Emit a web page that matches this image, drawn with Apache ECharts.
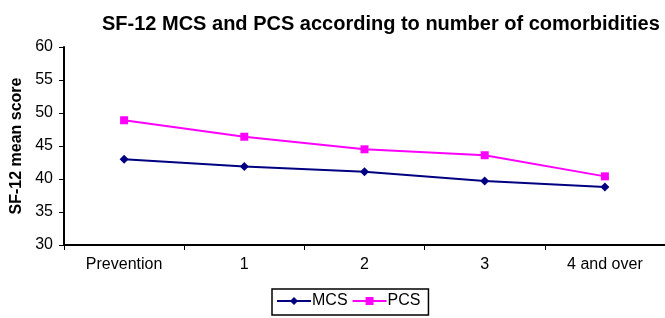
<!DOCTYPE html>
<html>
<head>
<meta charset="utf-8">
<script src="https://cdn.jsdelivr.net/npm/echarts@6/dist/echarts.min.js"></script>
<style>
  html, body { margin: 0; padding: 0; background: #fff; }
  #chart { width: 665px; height: 318px; }
</style>
</head>
<body>
<div id="chart"></div>
<script>
const categories = ["Prevention", "1", "2", "3", "4 and over"];
const mcs = [43.0, 41.9, 41.1, 39.7, 38.8];
const pcs = [48.9, 46.4, 44.5, 43.6, 40.4];

const chart = echarts.init(document.getElementById("chart"));
const font = "Liberation Sans, Arial, sans-serif";

chart.setOption({
  animation: false,
  title: {
    text: "SF-12 MCS and PCS according to number of comorbidities",
    left: 97,
    top: 9,
    textStyle: { fontFamily: font, fontSize: 20, fontWeight: "bold", color: "#000" },
  },
  grid: { left: 64, right: -4, top: 47, bottom: 73 },
  legend: {
    top: 289,
    left: 272,
    padding: [4, 8, 6, 4],
    borderColor: "#000",
    borderWidth: 1.5,
    itemWidth: 34,
    itemHeight: 10,
    itemGap: 4,
    textStyle: { fontFamily: font, fontSize: 16, color: "#000", padding: [0, 0, 0, -4] },
    data: ["MCS", "PCS"],
  },
  xAxis: {
    type: "category",
    data: categories,
    boundaryGap: true,
    axisLine: { lineStyle: { color: "#000", width: 2 } },
    axisTick: { show: true, length: 5, lineStyle: { color: "#000", width: 1 } },
    axisLabel: { fontFamily: font, fontSize: 16, color: "#000", margin: 12 },
  },
  yAxis: {
    type: "value",
    min: 30,
    max: 60,
    interval: 5,
    name: "SF-12 mean score",
    nameLocation: "middle",
    nameGap: 37,
    nameTextStyle: { fontFamily: font, fontSize: 16, fontWeight: "bold", color: "#000" },
    axisLine: { show: true, lineStyle: { color: "#000", width: 2 } },
    axisTick: { show: true, length: 5, lineStyle: { color: "#000", width: 1 } },
    axisLabel: { fontFamily: font, fontSize: 16, color: "#000", margin: 11 },
    splitLine: { show: false },
  },
  series: [
    {
      name: "MCS",
      type: "line",
      data: mcs,
      color: "#000080",
      symbol: "diamond",
      symbolSize: 9,
      lineStyle: { width: 2, color: "#000080" },
      itemStyle: { color: "#000080" },
    },
    {
      name: "PCS",
      type: "line",
      data: pcs,
      color: "#ff00ff",
      symbol: "rect",
      symbolSize: 8,
      lineStyle: { width: 2, color: "#ff00ff" },
      itemStyle: { color: "#ff00ff" },
    },
  ],
});
</script>
</body>
</html>
